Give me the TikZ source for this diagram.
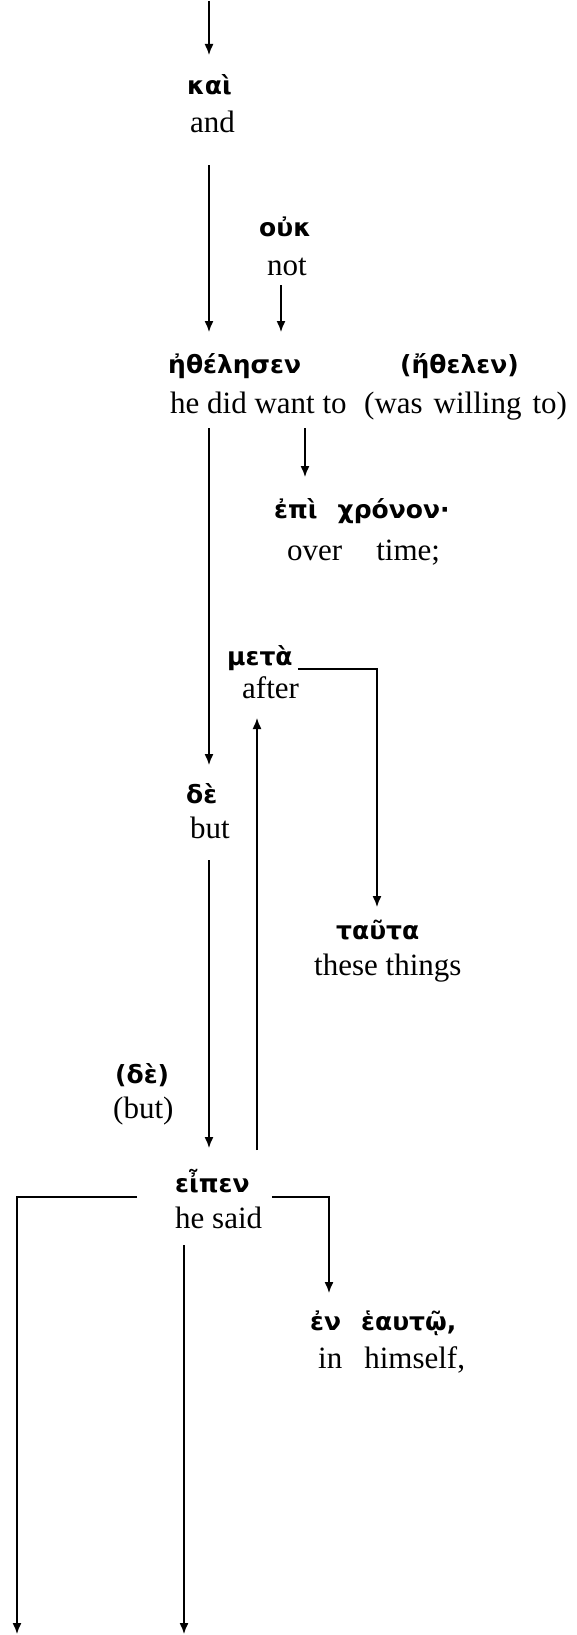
\documentclass[tikz,border=0pt]{standalone}
\usepackage{fontspec}
\setmainfont{Liberation Serif}
\newfontfamily\gkfont{DejaVu Sans}
\usetikzlibrary{arrows.meta,calc}
\tikzset{
  gk/.style={anchor=base west,inner sep=0pt,font=\gkfont\bfseries\fontsize{25}{29}\selectfont},
  en/.style={anchor=base west,inner sep=0pt,font=\fontsize{31}{36}\selectfont},
  conn/.style={line width=1.4pt},
  arr/.style={conn,-{Latex[length=11pt,width=9pt]}}
}
\begin{document}
\begin{tikzpicture}[x=1pt,y=-1pt]
\useasboundingbox (0,0) rectangle (577,1635);
% columns
\coordinate (cA) at (209,0);
\coordinate (cB) at (281,0);
\coordinate (cC) at (305,0);
\coordinate (cD) at (257,0);
\coordinate (cE) at (377,0);
\coordinate (cG) at (184,0);
\coordinate (cH) at (329,0);
\coordinate (top) at (209,1);
\coordinate (bl) at (17,1634);
\coordinate (bm) at (184,1634);
% words
\node[gk] (g-kai) at (187,95) {καὶ};
\node[en] (e-kai) at (190,132) {and};
\node[gk] (g-ouk) at (259,236) {οὐκ};
\node[en] (e-ouk) at (267,275) {not};
\node[gk] (g-ethel) at (168,373) {ἠθέλησεν};
\node[en] (e-ethel) at (170,413) {he did want to};
\node[gk] (g-ethelen) at (400,373) {(ἤθελεν)};
\node[en] (e-ethelen) at (364,413) {(was\hspace{11pt}willing\hspace{11pt}to)};
\node[gk] (g-epi) at (274,518) {ἐπὶ\hspace{20pt}χρόνον·};
\node[en] (e-epi) at (287,560) {over\hspace{34pt}time;};
\node[gk] (g-meta) at (227,665) {μετὰ};
\node[en] (e-meta) at (242,698) {after};
\node[gk] (g-de) at (186,803) {δὲ};
\node[en] (e-de) at (190,838) {but};
\node[gk] (g-tauta) at (336,939) {ταῦτα};
\node[en] (e-tauta) at (314,975) {these things};
\node[gk] (g-de2) at (115,1083) {(δὲ)};
\node[en] (e-de2) at (113,1118) {(but)};
\node[gk] (g-eipen) at (175,1192) {εἶπεν};
\node[en] (e-eipen) at (175,1228) {he said};
\node[gk] (g-en) at (310,1330) {ἐν\hspace{20pt}ἑαυτῷ,};
\node[en] (e-en) at (318,1368) {in\hspace{22pt}himself,};
% connectors
\draw[arr] (top) -- ($(g-kai.base -| cA)+(0,-40)$);
\draw[arr] ($(e-kai.base -| cA)+(0,33)$) -- ($(g-ethel.base -| cA)+(0,-41)$);
\draw[arr] ($(e-ouk.base -| cB)+(0,10)$) -- ($(g-ethel.base -| cB)+(0,-41)$);
\draw[arr] ($(e-ethel.base -| cC)+(0,15)$) -- ($(g-epi.base -| cC)+(0,-41)$);
\draw[arr] ($(e-ethel.base -| cA)+(0,15)$) -- ($(g-de.base -| cA)+(0,-38)$);
\draw[arr] ($(e-de.base -| cA)+(0,22)$) -- ($(g-eipen.base -| cA)+(0,-44)$);
\draw[arr] ($(g-eipen.base -| cD)+(0,-42)$) -- ($(e-meta.base -| cD)+(0,20)$);
\draw[arr] ($(g-meta.base east)+(5,4)$) -| ($(g-tauta.base -| cE)+(0,-32)$);
\draw[arr] ($(g-eipen.base west)+(-38,5)$) -| (bl);
\draw[arr] ($(g-eipen.base east)+(22,5)$) -| ($(g-en.base -| cH)+(0,-37)$);
\draw[arr] ($(e-eipen.base -| cG)+(0,17)$) -- (bm);
\end{tikzpicture}
\end{document}
